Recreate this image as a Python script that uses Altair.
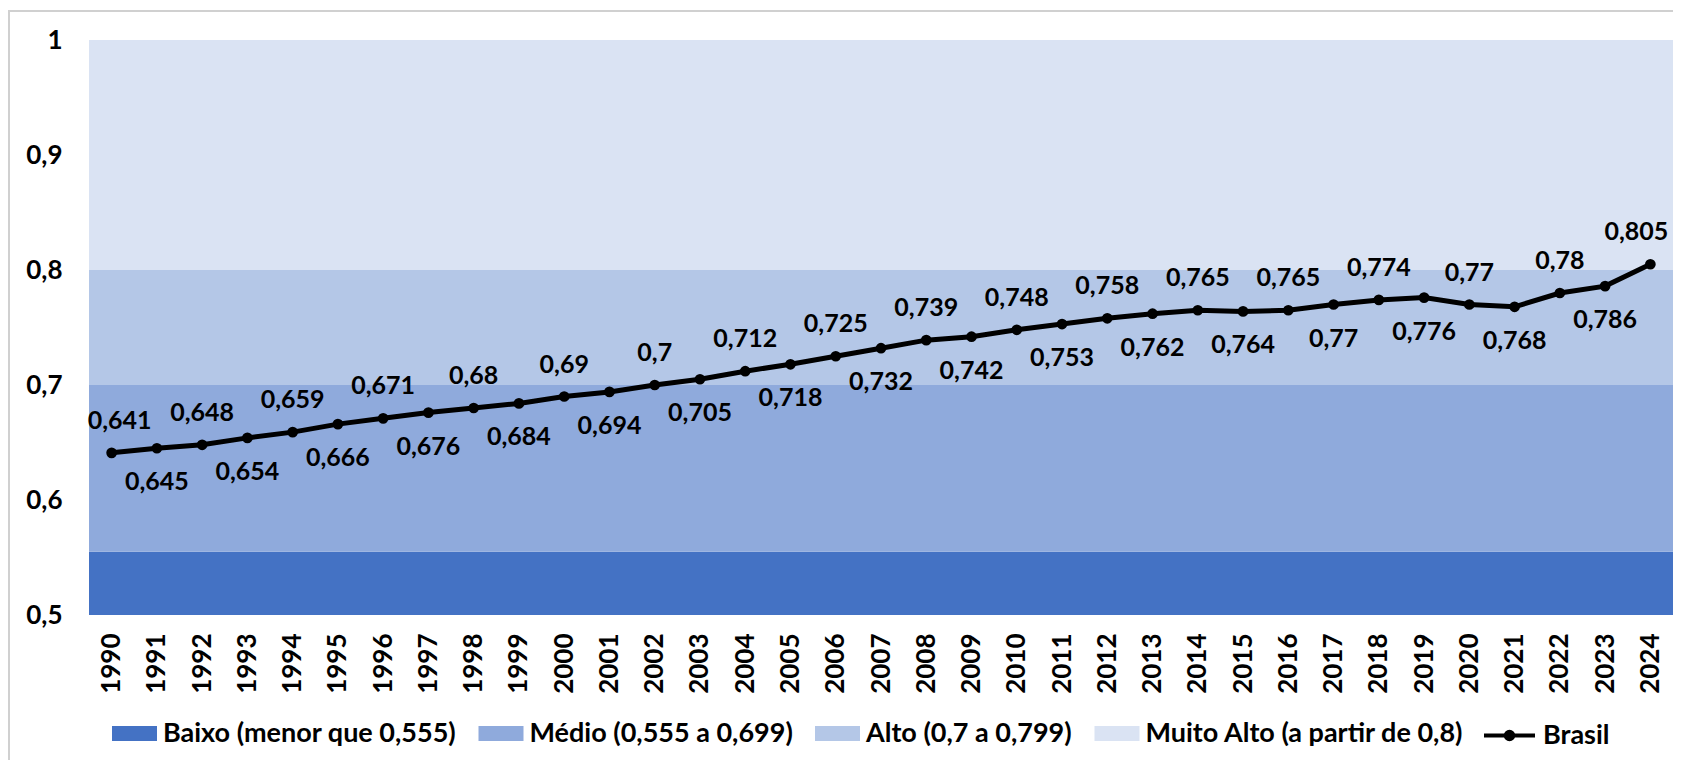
import altair as alt
import pandas as pd

# ---- data ----
years = ["1990", "1991", "1992", "1993", "1994", "1995", "1996", "1997", "1998", "1999",
         "2000", "2001", "2002", "2003", "2004", "2005", "2006", "2007", "2008", "2009",
         "2010", "2011", "2012", "2013", "2014", "2015", "2016", "2017", "2018", "2019",
         "2020", "2021", "2022", "2023", "2024"]
idh = [0.641, 0.645, 0.648, 0.654, 0.659, 0.666, 0.671, 0.676, 0.68, 0.684,
       0.69, 0.694, 0.7, 0.705, 0.712, 0.718, 0.725, 0.732, 0.739, 0.742,
       0.748, 0.753, 0.758, 0.762, 0.765, 0.764, 0.765, 0.77, 0.774, 0.776,
       0.77, 0.768, 0.78, 0.786, 0.805]
serie = "Brasil"

band_names = ["Baixo (menor que 0,555)", "Médio (0,555 a 0,699)",
              "Alto (0,7 a 0,799)", "Muito Alto (a partir de 0,8)"]
band_lo = [0.5, 0.555, 0.7, 0.8]
band_hi = [0.555, 0.7, 0.8, 1.0]
band_colors = ["#4472C4", "#8FAADC", "#B4C7E7", "#DAE3F3"]

y_ticks = [0.5, 0.6, 0.7, 0.8, 0.9, 1.0]

# ---- tables ----
df = pd.DataFrame({"ano": years, "idh": idh})
df["serie"] = serie
df["rotulo"] = [str(v).replace(".", ",") for v in idh]
df["pos"] = ["acima" if i % 2 == 0 else "abaixo" for i in range(len(df))]
bands_df = pd.DataFrame({"faixa": band_names, "lo": band_lo, "hi": band_hi})

W, H = 1584, 575
FONT = "Lato"

yscale = alt.Scale(domain=[0.5, 1.0], nice=False, zero=False)
xscale = alt.Scale(type="point", padding=0.5)

one = pd.DataFrame({"k": [0]})
frame_left = alt.Chart(one).mark_rule(color="#D0D0D0", strokeWidth=2).encode(
    x=alt.value(-80), y=alt.value(-29), y2=alt.value(780))
frame_top = alt.Chart(one).mark_rule(color="#D0D0D0", strokeWidth=2).encode(
    x=alt.value(-81), x2=alt.value(1620), y=alt.value(-29))

bands = alt.Chart(bands_df).mark_rect().encode(
    x=alt.value(0),
    x2=alt.value(W),
    y=alt.Y("lo:Q", scale=yscale, title=None,
            axis=alt.Axis(values=y_ticks,
                          labelExpr="replace(format(datum.value, '.1~f'), '.', ',')",
                          domain=False, ticks=False, grid=False,
                          labelPadding=27, labelFont=FONT, labelFontSize=26,
                          labelFontWeight="bold", labelColor="black")),
    y2="hi:Q",
    fill=alt.Fill("faixa:N",
                  scale=alt.Scale(domain=band_names, range=band_colors),
                  legend=alt.Legend(orient="none", legendX=30.5, legendY=678.5,
                                    direction="horizontal", columns=4, title=None,
                                    symbolType="M-1.5,-0.5H1.5V0.5H-1.5Z",
                                    symbolSize=900, symbolStrokeWidth=0,
                                    symbolOpacity=1, labelLimit=0,
                                    labelOffset=13.5, columnPadding=21.5, padding=0,
                                    labelFont=FONT, labelFontSize=27,
                                    labelFontWeight="bold", labelColor="black")),
)

xenc = alt.X("ano:O", scale=xscale, title=None, sort=years,
             axis=alt.Axis(labelAngle=270, domain=False, ticks=False, grid=False,
                           labelPadding=18, labelFont=FONT, labelFontSize=26,
                           labelFontWeight="bold", labelColor="black"))
yenc = alt.Y("idh:Q", scale=yscale)

line = alt.Chart(df).mark_line(strokeWidth=5).encode(
    x=xenc, y=yenc,
    stroke=alt.Stroke("serie:N", scale=alt.Scale(domain=[serie], range=["black"]),
                      legend=alt.Legend(orient="none", legendX=1401.5, legendY=676.5,
                                        direction="horizontal", title=None,
                                        symbolType="M-1.5,0H1.5M0.22,0A0.22,0.22,0,1,1,-0.22,0A0.22,0.22,0,1,1,0.22,0",
                                        symbolSize=1156, symbolStrokeWidth=4,
                                        symbolFillColor="black", labelLimit=0,
                                        labelOffset=14.5, padding=0,
                                        labelFont=FONT, labelFontSize=27,
                                        labelFontWeight="bold", labelColor="black")),
)

points = alt.Chart(df).mark_circle(size=115, color="black", opacity=1).encode(x=xenc, y=yenc)

txt = dict(font=FONT, fontSize=25, fontWeight="bold", color="black", baseline="middle")
first, last = years[0], years[-1]

lab_up = alt.Chart(df).mark_text(dy=-32, **txt).encode(
    x=xenc, y=yenc, text="rotulo:N"
).transform_filter(
    f"datum.pos == 'acima' && datum.ano != '{first}' && datum.ano != '{last}'")
lab_down = alt.Chart(df).mark_text(dy=34, **txt).encode(
    x=xenc, y=yenc, text="rotulo:N"
).transform_filter("datum.pos == 'abaixo'")
lab_first = alt.Chart(df).mark_text(dy=-32, dx=8, **txt).encode(
    x=xenc, y=yenc, text="rotulo:N"
).transform_filter(f"datum.ano == '{first}'")
lab_last = alt.Chart(df).mark_text(dy=-32, dx=-14, **txt).encode(
    x=xenc, y=yenc, text="rotulo:N"
).transform_filter(f"datum.ano == '{last}'")

chart = alt.layer(frame_left, frame_top, bands, line, points,
                  lab_up, lab_down, lab_first, lab_last).resolve_scale(
    fill="independent", stroke="independent"
).properties(
    width=W, height=H,
    autosize=alt.AutoSizeParams(type="none"),
    padding={"left": 81, "top": 32, "right": 0, "bottom": 145},
    background="white",
).configure_view(stroke=None)

chart.save("out.html", embed_options={"renderer": "svg", "actions": False})
